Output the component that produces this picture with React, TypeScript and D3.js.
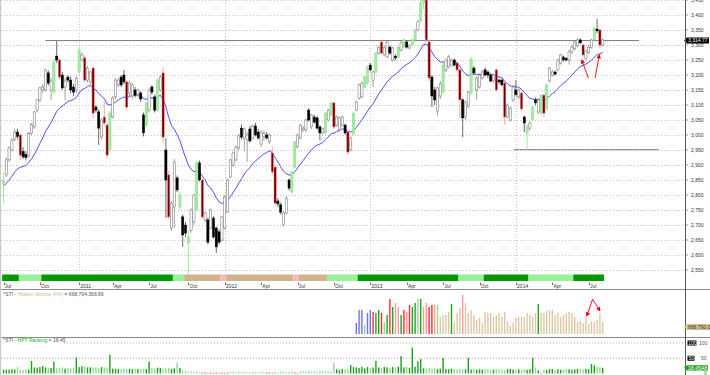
import React, { useEffect } from "react";
import * as d3 from "d3";

// ---------- weekly candles (index 0 = week of 2 Jul 2010) ----------
const opens = [
  2835, 2867, 2917, 2950, 2985, 3010, 3000, 2945, 2935, 2930,
  3005, 3027, 3083, 3117, 3150, 3150, 3207, 3150, 3143, 3263,
  3250, 3200, 3160, 3193, 3183, 3160, 3150, 3210, 3250, 3257,
  3183, 3177, 3223, 3093, 3077, 2993, 3060, 3033, 2950, 3060,
  3127, 3167, 3193, 3200, 3177, 3140, 3130, 3150, 3135, 3140,
  3067, 3033, 3083, 3160, 3127, 3083, 3150, 3207, 2950, 2867,
  2690, 2760, 2857, 2760, 2727, 2700, 2640, 2683, 2710, 2750,
  2907, 2850, 2717, 2717, 2690, 2723, 2690, 2677, 2650, 2690,
  2743, 2860, 2900, 2917, 2957, 3023, 2990, 2985, 3020, 2990,
  3030, 3010, 2970, 2995, 3000, 2977, 2940, 2893, 2780, 2767,
  2700, 2740, 2850, 2810, 2893, 2960, 2990, 3017, 3017, 3083,
  3027, 3060, 3057, 3027, 3007, 3007, 3050, 3067, 3107, 3033,
  3017, 3033, 3033, 3010, 2950, 3003, 3083, 3123, 3127, 3160,
  3173, 3233, 3183, 3210, 3273, 3310, 3267, 3260, 3293, 3250,
  3263, 3260, 3283, 3293, 3310, 3290, 3300, 3317, 3350, 3380,
  3440, 3450, 3310, 3193, 3150, 3080, 3130, 3143, 3217, 3227,
  3233, 3250, 3240, 3217, 3117, 3060, 3097, 3140, 3223, 3150,
  3160, 3190, 3217, 3210, 3200, 3180, 3217, 3183, 3183, 3173,
  3060, 3050, 3117, 3150, 3127, 3140, 3060, 3005, 3023, 3050,
  3117, 3077, 3073, 3133, 3090, 3180, 3200, 3210, 3217, 3240,
  3260, 3255, 3250, 3277, 3287, 3297, 3317, 3300, 3255, 3275,
  3293, 3317, 3353, 3350, 3300,
];
const highs = [
  2877, 2925, 2962, 2990, 3020, 3020, 3005, 2960, 2945, 3010,
  3040, 3080, 3120, 3160, 3170, 3220, 3215, 3190, 3250, 3313,
  3255, 3210, 3190, 3200, 3195, 3170, 3195, 3295, 3275, 3265,
  3230, 3215, 3230, 3100, 3085, 3055, 3110, 3040, 3080, 3130,
  3190, 3190, 3200, 3217, 3180, 3180, 3175, 3160, 3155, 3145,
  3075, 3110, 3155, 3167, 3135, 3190, 3200, 3227, 2990, 2880,
  2780, 2920, 2865, 2810, 2735, 2710, 2680, 2755, 2805, 2915,
  2915, 2855, 2745, 2725, 2755, 2730, 2695, 2685, 2730, 2800,
  2855, 2920, 2945, 2965, 3005, 3035, 3025, 3010, 3030, 3035,
  3040, 3020, 3015, 3015, 3010, 3005, 2960, 2900, 2790, 2775,
  2745, 2795, 2855, 2880, 2980, 3005, 3037, 3030, 3055, 3090,
  3070, 3068, 3062, 3032, 3025, 3077, 3088, 3110, 3112, 3065,
  3062, 3065, 3038, 3015, 2995, 3078, 3115, 3172, 3178, 3197,
  3230, 3240, 3215, 3277, 3297, 3315, 3298, 3315, 3298, 3295,
  3268, 3297, 3312, 3322, 3315, 3302, 3320, 3355, 3383, 3450,
  3465, 3460, 3315, 3200, 3160, 3160, 3180, 3240, 3255, 3267,
  3255, 3255, 3245, 3222, 3122, 3115, 3147, 3260, 3230, 3195,
  3205, 3217, 3225, 3215, 3207, 3205, 3222, 3188, 3188, 3180,
  3105, 3095, 3165, 3183, 3155, 3145, 3065, 3035, 3045, 3097,
  3125, 3122, 3137, 3138, 3172, 3227, 3217, 3215, 3255, 3270,
  3265, 3260, 3285, 3300, 3317, 3322, 3322, 3305, 3285, 3300,
  3320, 3360, 3387, 3355, 3322,
];
const lows = [
  2773, 2860, 2910, 2945, 2980, 2985, 2917, 2920, 2915, 2925,
  3000, 3020, 3075, 3110, 3140, 3145, 3165, 3117, 3135, 3240,
  3185, 3150, 3117, 3175, 3140, 3130, 3140, 3200, 3245, 3175,
  3175, 3170, 3057, 3075, 2967, 2985, 3030, 2923, 2945, 3055,
  3120, 3160, 3160, 3170, 3083, 3130, 3120, 3125, 3125, 3110,
  2995, 3025, 3075, 3135, 3075, 3078, 3145, 2973, 2723, 2720,
  2680, 2690, 2810, 2750, 2627, 2660, 2527, 2675, 2700, 2745,
  2845, 2720, 2710, 2635, 2685, 2655, 2607, 2635, 2645, 2685,
  2740, 2855, 2895, 2912, 2950, 2985, 2945, 2910, 2975, 2985,
  2995, 2985, 2960, 2980, 2985, 2970, 2870, 2765, 2760, 2735,
  2695, 2735, 2815, 2805, 2890, 2955, 2985, 3010, 3010, 3045,
  3020, 3038, 3018, 2983, 3000, 3002, 3045, 3062, 3020, 3028,
  3012, 3028, 3000, 2933, 2945, 2998, 3078, 3118, 3122, 3155,
  3168, 3212, 3160, 3205, 3268, 3268, 3262, 3255, 3268, 3245,
  3250, 3255, 3278, 3288, 3288, 3285, 3295, 3310, 3345, 3375,
  3420, 3310, 3180, 3093, 3100, 3065, 3120, 3140, 3210, 3222,
  3228, 3228, 3210, 3057, 2993, 3050, 3090, 3135, 3200, 3117,
  3155, 3185, 3195, 3190, 3175, 3175, 3145, 3170, 3163, 3033,
  3055, 3045, 3110, 3130, 3120, 3080, 3010, 2950, 3015, 3045,
  3100, 3070, 3068, 3060, 3080, 3175, 3195, 3198, 3212, 3235,
  3245, 3245, 3235, 3270, 3282, 3292, 3305, 3260, 3250, 3270,
  3288, 3312, 3340, 3290, 3295,
];
const closes = [
  2850, 2917, 2957, 2983, 3010, 2995, 2933, 2927, 2925, 3005,
  3035, 3077, 3117, 3157, 3160, 3217, 3173, 3180, 3243, 3250,
  3193, 3157, 3180, 3183, 3150, 3143, 3190, 3283, 3267, 3183,
  3223, 3210, 3073, 3083, 3023, 3050, 3040, 2933, 3073, 3123,
  3183, 3183, 3167, 3177, 3093, 3173, 3167, 3133, 3150, 3120,
  3007, 3107, 3150, 3143, 3083, 3183, 3193, 2993, 2850, 2727,
  2773, 2910, 2817, 2800, 2667, 2673, 2660, 2750, 2800, 2907,
  2850, 2727, 2740, 2643, 2750, 2660, 2627, 2643, 2727, 2793,
  2850, 2917, 2940, 2960, 2997, 2993, 3020, 3000, 2980, 3030,
  3000, 2990, 3010, 3005, 2990, 3000, 2877, 2773, 2770, 2743,
  2740, 2790, 2823, 2877, 2977, 3000, 3033, 3023, 3050, 3050,
  3067, 3043, 3023, 3007, 3020, 3073, 3083, 3107, 3027, 3060,
  3057, 3060, 3007, 2943, 2990, 3073, 3110, 3167, 3173, 3193,
  3227, 3217, 3210, 3273, 3293, 3273, 3293, 3310, 3273, 3290,
  3257, 3293, 3307, 3317, 3293, 3297, 3317, 3350, 3377, 3440,
  3450, 3317, 3190, 3130, 3117, 3157, 3170, 3233, 3250, 3260,
  3250, 3233, 3217, 3117, 3057, 3110, 3143, 3253, 3207, 3190,
  3200, 3210, 3200, 3200, 3180, 3200, 3150, 3177, 3167, 3060,
  3100, 3090, 3160, 3135, 3150, 3087, 3040, 3030, 3040, 3093,
  3107, 3117, 3133, 3073, 3167, 3223, 3210, 3203, 3250, 3267,
  3250, 3250, 3277, 3293, 3310, 3317, 3307, 3267, 3280, 3293,
  3317, 3357, 3347, 3300, 3317,
];
// w = hollow up, b = black down, g = green signal up, r = red signal down
const candleKinds = [
  "gwwwwbrbbw", "wwwwwwbwgb", "rbwbbbwgwr", "wwrbbwrrgw", "wwbbrwwbwb",
  "bgwbbgwrbr", "wwbgbbgwwg", "brwbwbbbww", "wwwwwbwwbw", "bbwwbwrrbb",
  "wwbggwwwwb", "wbbbwgwgrw", "wwbrwgwwwg", "gbwgwrwwbw", "bgwgbwggwg",
  "grrbbwwgww", "wbrrbwwgbw", "wwbbbwrbbr", "wwwbwrbgwg", "bwgrgwwbww",
  "bbwwwwbrww", "wgbrw",
].join("");

// exponential moving average of the closes
const maPeriod = 20;
const maStartValue = 2830; // value of the average at the first bar

// ---------- top-of-axis ribbon ----------
const ribbonStart = [0, 6, 14, 61, 65, 78, 80, 104, 106, 116, 127, 163, 172, 188, 204];
const ribbonEnd = [5, 13, 60, 64, 77, 79, 103, 105, 115, 126, 162, 171, 187, 203, 214];
const ribbonKind = ["dg", "lg", "dg", "lg", "tan", "pink", "tan", "pink", "tan", "lg", "dg", "lg", "dg", "lg", "dg"];

// ---------- axis ticks ----------
const tickIdx = [0, 13, 27, 39, 52, 66, 79, 92, 105, 118, 131, 144, 157, 170, 183, 196, 209];
const tickLabels = ["Jul", "Oct", "2011", "Apr", "Jul", "Oct", "2012", "Apr", "Jul", "Oct", "2013", "Apr", "Jul", "Oct", "2014", "Apr", "Jul"];
const priceTicks = [2550, 2600, 2650, 2700, 2750, 2800, 2850, 2900, 2950, 3000, 3050, 3100, 3150, 3200, 3250, 3300, 3350, 3400, 3450];

// ---------- drawn lines / arrows ----------
const trendFrom = [15, 182.3];
const trendTo = [227, 234];
const trendValue = [3314.77, 2951];
const arrowBaseIdx = [208.9, 211.25];
const arrowBaseVal = [3190, 3190];
const arrowTipIdx = [206.5, 212.8];
const arrowTipVal = [3250, 3267];

// ---------- Hidden Volume (from index 126) ----------
const volStart = 126;
const hiddenVolume = [
  638, 1038, 1038, 577, 946, 1038, 977, 946, 1038, 946,
  669, 884, 1376, 1130, 1253, 1130, 884, 1038, 977, 1192,
  1130, 1253, 1376, 1376, 1130, 1253, 1130, 1192, 1192, 1192,
  823, 884, 884, 977, 1223, 669, 946, 1100, 1499, 1253,
  946, 1038, 884, 731, 792, 638, 977, 946, 946, 823,
  884, 946, 823, 977, 700, 546, 638, 792, 823, 823,
  823, 946, 884, 823, 946, 1223, 946, 946, 1007, 1038,
  1038, 884, 946, 823, 884, 946, 977, 946, 823, 669,
  700, 638, 823, 608, 700, 669, 731, 946, 668.79,
];
const volKinds = "BBBgBBRGGRgGRGrrGRrRGGgGrrRRrgTTTTGTTTrT" + "TTTTTTTTTTTTTTTTTTTTTTTTT" + "G" + "TTTTTTTTTTTTTTTTTTTTTTT";
const volArrowApex = [210.4, 1367];
const volArrowTipIdx = [208.3, 213];
const volArrowTipVal = [853, 1016];

// ---------- HPT Ranking ----------
const hpt = [
  12, 13, 12, 14, 13, 21, 13, 12, 14, 13,
  41, 20, 19, 21, 24, 20, 19, 18, 39, 17,
  18, 20, 16, 18, 17, 19, 53, 21, 24, 24,
  20, 20, 19, 20, 18, 21, 20, 19, 61, 16,
  15, 15, 14, 16, 15, 15, 14, 16, 15, 14,
  16, 15, 39, 18, 17, 19, 18, 16, 17, 19,
  15, 17, 35, 18, 10, 8, 6, 8, 5, 7,
  4, 3, 3, 2, 3, 2, 3, 2, 3, 2,
  3, 5, 6, 4, 7, 5, 6, 4, 5, 6,
  5, 4, 6, 5, 3, 3, 2, 6, 5, 6,
  7, 4, 6, 9, 3, 2, 7, 8, 6, 9,
  7, 8, 6, 9, 7, 8, 7, 7, 35, 14,
  12, 15, 13, 14, 28, 21, 20, 18, 22, 17,
  21, 19, 20, 41, 20, 18, 21, 20, 19, 21,
  20, 22, 57, 20, 22, 19, 85, 22, 40, 47,
  17, 15, 18, 16, 17, 15, 16, 51, 15, 14,
  16, 15, 13, 15, 14, 14, 52, 13, 15, 12,
  14, 13, 15, 14, 12, 13, 15, 14, 13, 12,
  14, 15, 13, 12, 14, 13, 15, 12, 14, 52,
  20, 10, 2, 13, 12, 14, 15, 13, 14, 12,
  13, 15, 14, 12, 13, 15, 14, 13, 15, 14,
  31, 27, 23, 22, 18.45,
];
const hptRedIdx = [71, 72, 73, 74, 75, 76, 77, 78, 79, 80, 94, 95, 96, 104, 105, 192];
const hptPaleFrom = 64;
const hptPaleTo = 117;

const FONT = "'Liberation Sans', Arial, sans-serif";

const ribbonColor: Record<string, string> = { dg: "#009a00", lg: "#98f098", tan: "#d2b48c", pink: "#ffb6c1" };
const volColor: Record<string, string> = { B: "#6f6fff", g: "#8fdc8f", R: "#ff2a2a", G: "#22a322", r: "#ff9a9a", T: "#dcc7a4" };

export default function App() {
  useEffect(() => {
    document.body.style.margin = "0";
  }, []);

  const x = d3.scaleLinear().domain([0, 1]).range([3.5, 6.3]);
  const y = d3.scaleLinear().domain([2550, 3450]).range([270, 0]);
  const yVol = d3.scaleLinear().domain([300, 1530]).range([334, 294]);
  const yHpt = d3.scaleLinear().domain([0, 100]).range([373.5, 343]);
  const fmt = d3.format(",");

  const alpha = 2 / (maPeriod + 1);
  const ma: number[] = [];
  closes.forEach((c, i) => {
    const prev = i === 0 ? maStartValue : ma[i - 1];
    ma.push(i === 0 ? maStartValue : prev + alpha * (c - prev));
  });
  const maPath = d3
    .line<number>()
    .x((_, i) => x(i))
    .y((d) => y(d))(ma) as string;

  const bw = 2.2;
  const candleStyle: Record<string, { fill: string; stroke: string; wick: string }> = {
    w: { fill: "#ffffff", stroke: "#6a6a6a", wick: "#8a8a8a" },
    b: { fill: "#000000", stroke: "#000000", wick: "#444444" },
    g: { fill: "#a6eba6", stroke: "#80dc80", wick: "#8fe38f" },
    r: { fill: "#6e0000", stroke: "#ff6a6a", wick: "#ff8c8c" },
  };

  const lastTrend = trendValue[0];

  return (
    <svg width={710} height={375} style={{ position: "absolute", left: 0, top: 0, background: "#fff" }} fontFamily={FONT}>
      <defs>
        <marker id="ah" viewBox="0 0 10 10" refX="8" refY="5" markerWidth="5" markerHeight="5" orient="auto">
          <path d="M0,0 L10,5 L0,10 z" fill="#ee0000" />
        </marker>
      </defs>
      <rect x={0} y={0} width={710} height={375} fill="#fff" />

      {/* main grid */}
      {priceTicks.map((v) => (
        <line key={"hg" + v} x1={1} x2={685} y1={Math.round(y(v)) + 0.5} y2={Math.round(y(v)) + 0.5} stroke="#b4b4b4" strokeWidth={0.8} strokeDasharray="1,2" />
      ))}
      {tickIdx.map((t, k) =>
        /^\d{4}$/.test(tickLabels[k]) ? (
          <line key={"vg" + k} x1={Math.round(x(t)) + 0.5} x2={Math.round(x(t)) + 0.5} y1={0} y2={273} stroke="#b4b4b4" strokeWidth={0.8} strokeDasharray="1,2" />
        ) : null
      )}

      {/* trend lines */}
      {trendValue.map((v, k) => (
        <line key={"tl" + k} x1={x(trendFrom[k])} x2={x(trendTo[k])} y1={y(v)} y2={y(v)} stroke="#7a7a7a" strokeWidth={1} />
      ))}

      {/* moving average */}
      <path d={maPath} fill="none" stroke="#3a3aee" strokeWidth={0.9} />

      {/* candles */}
      {closes.map((c, i) => {
        const o = opens[i];
        const st = candleStyle[candleKinds[i]] || candleStyle.w;
        const top = y(Math.max(o, c));
        const bot = y(Math.min(o, c));
        const cx = x(i);
        return (
          <g key={"c" + i}>
            <line x1={cx} x2={cx} y1={y(highs[i])} y2={y(lows[i])} stroke={st.wick} strokeWidth={0.8} />
            <rect x={cx - bw / 2} y={top} width={bw} height={Math.max(0.8, bot - top)} fill={st.fill} stroke={st.stroke} strokeWidth={0.5} />
          </g>
        );
      })}

      {/* red arrows on price */}
      {arrowBaseIdx.map((b, k) => (
        <line key={"ar" + k} x1={x(b)} y1={y(arrowBaseVal[k])} x2={x(arrowTipIdx[k])} y2={y(arrowTipVal[k])} stroke="#ee0000" strokeWidth={0.9} markerEnd="url(#ah)" />
      ))}

      {/* ribbon */}
      {ribbonStart.map((s, k) => (
        <rect key={"rb" + k} x={x(s) - 1.4} y={274.5} width={x(ribbonEnd[k]) - x(s) + 2.8} height={6.5} fill={ribbonColor[ribbonKind[k]]} />
      ))}

      {/* time axis */}
      {tickIdx.map((t, k) => (
        <g key={"tk" + k}>
          <line x1={Math.round(x(t)) + 0.5} x2={Math.round(x(t)) + 0.5} y1={282.5} y2={285} stroke="#333" strokeWidth={0.7} />
          <text x={x(t) + 1.2} y={288} fontSize={5} fill="#333">
            {tickLabels[k]}
          </text>
        </g>
      ))}

      {/* right price axis */}
      {priceTicks.map((v) => (
        <g key={"pt" + v}>
          <line x1={685} x2={688} y1={y(v)} y2={y(v)} stroke="#555" strokeWidth={0.6} />
          <text x={691} y={y(v) + 1.8} fontSize={5} fill="#333">
            {fmt(v)}
          </text>
        </g>
      ))}
      <path d={`M684,${y(lastTrend)} L687,${y(lastTrend) - 3} L709,${y(lastTrend) - 3} L709,${y(lastTrend) + 3} L687,${y(lastTrend) + 3} Z`} fill="#000" />
      <text x={688} y={y(lastTrend) + 1.8} fontSize={5} fill="#fff">
        {d3.format(",.2f")(lastTrend)}
      </text>

      {/* panel separators */}
      <line x1={0} x2={710} y1={289.5} y2={289.5} stroke="#8a8a8a" strokeWidth={1} />
      <line x1={0} x2={710} y1={337.5} y2={337.5} stroke="#8a8a8a" strokeWidth={1} />
      <line x1={685.5} x2={685.5} y1={0} y2={375} stroke="#555" strokeWidth={1} />
      <line x1={0.5} x2={0.5} y1={0} y2={375} stroke="#c8c8c8" strokeWidth={1} />

      {/* hidden volume panel */}
      <text x={3} y={296} fontSize={5} fill="#555">
        ^STI - <tspan fill="#d2b48c">Hidden Volume (HV)</tspan> = 668,794,368.89
      </text>
      {hiddenVolume.map((v, k) => {
        const i = volStart + k;
        const top = yVol(v);
        return <rect key={"hv" + k} x={x(i) - 0.7} y={top} width={1.4} height={yVol(300) - top} fill={volColor[volKinds[k]] || "#dcc7a4"} />;
      })}
      {volArrowTipIdx.map((t, k) => (
        <line key={"va" + k} x1={x(volArrowApex[0])} y1={yVol(volArrowApex[1])} x2={x(t)} y2={yVol(volArrowTipVal[k])} stroke="#ee0000" strokeWidth={0.9} markerEnd="url(#ah)" />
      ))}
      {(() => {
        const lv = hiddenVolume[hiddenVolume.length - 1];
        const yy = yVol(lv) + 5;
        return (
          <g>
            <path d={`M684,${yy} L687,${yy - 3} L710,${yy - 3} L710,${yy + 3} L687,${yy + 3} Z`} fill="#d9bf93" />
            <text x={688} y={yy + 1.8} fontSize={5} fill="#333">
              {d3.format(",.2f")(lv * 1e6)}
            </text>
          </g>
        );
      })()}

      {/* HPT ranking panel */}
      <text x={3} y={342} fontSize={5} fill="#555">
        ^STI - <tspan fill="#22aa22">HPT Ranking</tspan> = 18.45
      </text>
      <line x1={64} x2={685} y1={yHpt(100)} y2={yHpt(100)} stroke="#999" strokeWidth={0.8} strokeDasharray="1,2" />
      <line x1={1} x2={685} y1={yHpt(50)} y2={yHpt(50)} stroke="#999" strokeWidth={0.8} strokeDasharray="1,2" />
      {hpt.map((v, i) => {
        const red = hptRedIdx.includes(i);
        const pale = i >= hptPaleFrom && i <= hptPaleTo;
        const up = closes[i] >= opens[i];
        const col = red ? "#ff3030" : pale ? "#9de09d" : up ? "#1f9f1f" : "#8fd98f";
        const top = yHpt(v);
        return <rect key={"hp" + i} x={x(i) - 0.7} y={top} width={1.4} height={yHpt(0) - top} fill={col} />;
      })}
      <rect x={687.5} y={yHpt(100) - 2.5} width={9} height={5} fill="#000" />
      <text x={688.3} y={yHpt(100) + 1.8} fontSize={5} fill="#fff">100</text>
      <text x={699} y={yHpt(100) + 1.8} fontSize={5} fill="#555">100</text>
      <rect x={687.5} y={yHpt(50) - 2.5} width={7} height={5} fill="#000" />
      <text x={688.5} y={yHpt(50) + 1.8} fontSize={5} fill="#fff">50</text>
      <text x={701} y={yHpt(50) + 1.8} fontSize={5} fill="#555">50</text>
      <path d={`M684,${yHpt(18.45)} L687,${yHpt(18.45) - 2.6} L708,${yHpt(18.45) - 2.6} L708,${yHpt(18.45) + 2.6} L687,${yHpt(18.45) + 2.6} Z`} fill="#1f9f1f" />
      <text x={688} y={yHpt(18.45) + 1.8} fontSize={5} fill="#fff">18.45|48</text>
      <text x={704} y={375} fontSize={5} fill="#555">0</text>
    </svg>
  );
}
